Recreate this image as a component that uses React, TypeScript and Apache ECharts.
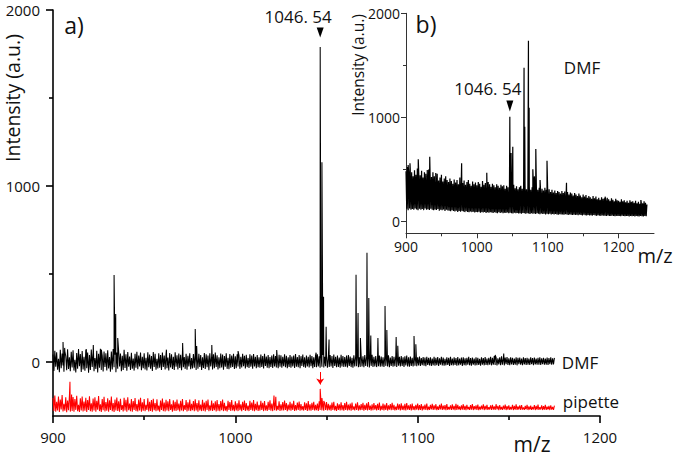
import React, { useEffect, useRef } from "react";
import * as echarts from "echarts";

// ---------- data ----------
const MZ_START = 900;      // first m/z of every sampled trace
const MAIN_STEP = 0.5;     // m/z step of the panel a) traces
const INSET_STEP = 1;      // m/z step of the panel b) trace

const xTicksMain = [900, 1000, 1100, 1200];
const xMinorMain = [950, 1050, 1150];
const yTicksMain = [0, 1000, 2000];
const yMinorMain = [500, 1500];
const xTicksInset = [900, 1000, 1100, 1200];
const xMinorInset = [950, 1050, 1150];
const yTicksInset = [0, 1000, 2000];
const yMinorInset = [500, 1500];

// DMF trace (panel a), baseline 900..1175 every 0.5 m/z
const dmfNoise = [
  42, -51, 63, -27, 55, -44, 18, -58, 70, -36, 48, -20, -55, 61, 33, -47, 72, -40, 26, -53,
  58, -31, 67, -49, 12, -60, 51, -38, 74, -24, 45, -57, 62, -42, 30, -50, 68, -35, 53, -61,
  39, -46, 71, -28, 57, -52, 22, -40, 64, -59, 47, -33, 75, -45, 36, -54, 60, -29, 50, -48,
  66, -37, 28, -56, 59, -43, 73, -30, 41, -58, 54, -39, 63, -25, 48, -52, 35, -46, 69, -34,
  44, -50, 56, -27, 31, -45, 52, -38, 20, -49, 47, -32, 58, -41, 37, -26, 53, -47, 29, -36,
  50, -43, 24, -48, 55, -30, 42, -39, 34, -51, 57, -28, 46, -44, 18, -37, 49, -33, 40, -46,
  53, -29, 36, -42, 47, -35, 25, -48, 51, -31, 44, -40, 30, -45, 55, -27, 38, -43, 48, -34,
  41, -47, 52, -30, 28, -39, 46, -44, 35, -26, 50, -41, 22, -37, 45, -32, 54, -46, 33, -38,
  47, -28, 39, -45, 26, -34, 51, -40, 43, -30, 36, -47, 49, -25, 31, -42, 44, -35, 53, -29,
  38, -43, 27, -36, 48, -31, 42, -44, 34, -27, 50, -39, 24, -41, 45, -33, 37, -28, 46, -40,
  32, -35, 44, -26, 38, -39, 29, -31, 47, -24, 35, -37, 41, -29, 23, -34, 43, -27, 36, -38,
  45, -25, 30, -36, 39, -30, 26, -33, 42, -28, 34, -37, 46, -23, 31, -32, 40, -35, 28, -29,
  37, -34, 43, -26, 33, -31, 24, -36, 41, -27, 38, -33, 29, -24, 44, -30, 35, -35, 27, -28,
  40, -32, 31, -25, 36, -34, 45, -27, 28, -30, 39, -36, 33, -22, 42, -29, 26, -33, 37, -26,
  30, -31, 41, -24, 34, -35, 27, -28, 38, -30, 43, -25, 32, -33, 36, -27, 40, -31, 29, -24,
  35, -32, 26, -29, 39, -26, 33, -34, 42, -23, 30, -30, 37, -28, 25, -32, 41, -25, 34, -29,
  28, -27, 36, -31, 40, -22, 31, -29, 24, -33, 38, -26, 33, -24, 42, -30, 27, -28, 35, -25,
  32, -30, 39, -23, 29, -27, 36, -31, 26, -22, 41, -28, 30, -26, 34, -29, 23, -24, 37, -27,
  31, -25, 27, -29, 35, -22, 28, -26, 38, -30, 25, -23, 33, -27, 29, -24, 36, -28, 24, -21,
  30, -26, 34, -23, 26, -28, 32, -20, 37, -25, 27, -27, 31, -22, 24, -26, 35, -21, 29, -24,
  26, -20, 31, -23, 22, -18, 28, -21, 25, -24, 30, -17, 23, -20, 27, -22, 19, -19, 29, -21,
  24, -18, 28, -22, 21, -16, 30, -20, 25, -21, 18, -19, 27, -17, 23, -22, 29, -18, 20, -20,
  26, -17, 22, -21, 28, -19, 19, -16, 25, -22, 27, -18, 21, -20, 24, -15, 30, -19, 22, -21,
  25, -16, 20, -20, 27, -18, 23, -17, 18, -21, 26, -15, 22, -19, 28, -17, 20, -18, 24, -16,
  29, -19, 23, -15, 34, -17, 26, -20, 21, -14, 27, -18, 32, -16, 22, -19, 25, -13, 28, -17,
  21, -18, 26, -14, 24, -17, 19, -15, 27, -19, 23, -13, 25, -16, 20, -18, 26, -14, 22, -17,
  24, -15, 20, -17, 27, -13, 22, -18, 25, -14, 19, -16, 23, -15, 26, -17, 21, -13, 24, -16,
  20, -15, 25, -17, 22, -13, 26, -16, 21, -14, 23,
];

// pipette trace (panel a, offset below), 900..1175 every 0.5 m/z
const pipetteNoise = [
  -204, -279, -190, -283, -226, -276, -197, -284, -213, -270, -188, -281, -238, -277, -201, -285, -219, -274, -194, -282,
  -231, -278, -199, -283, -210, -272, -192, -280, -244, -284, -207, -275, -196, -281, -225, -277, -203, -284, -216, -273,
  -195, -280, -235, -283, -208, -276, -200, -282, -221, -271, -193, -279, -241, -284, -211, -274, -198, -281, -228, -277,
  -206, -283, -218, -272, -197, -280, -233, -284, -213, -275, -202, -279, -224, -282, -209, -273, -245, -281, -204, -276,
  -215, -282, -200, -274, -236, -280, -211, -283, -222, -272, -205, -279, -239, -281, -214, -275, -203, -282, -229, -277,
  -210, -280, -243, -273, -207, -281, -226, -278, -217, -283, -209, -274, -234, -280, -212, -276, -248, -282, -219, -273,
  -208, -279, -231, -281, -215, -275, -223, -280, -211, -272, -240, -282, -218, -277, -227, -279, -213, -274, -236, -281,
  -220, -276, -210, -280, -245, -273, -216, -281, -229, -277, -214, -279, -238, -274, -222, -280, -212, -276, -233, -282,
  -218, -275, -242, -279, -215, -277, -230, -281, -221, -273, -213, -280, -247, -276, -219, -278, -235, -274, -224, -281,
  -216, -277, -239, -280, -222, -274, -214, -279, -232, -276, -250, -281, -220, -273, -228, -278, -217, -275, -244, -280,
  -223, -276, -235, -279, -218, -274, -241, -280, -226, -272, -219, -278, -233, -275, -248, -279, -221, -273, -230, -277,
  -216, -280, -238, -274, -225, -278, -243, -276, -220, -273, -232, -279, -222, -275, -246, -278, -227, -272, -218, -277,
  -236, -279, -224, -274, -231, -277, -249, -273, -223, -278, -240, -275, -228, -276, -219, -272, -234, -279, -242, -274,
  -226, -277, -237, -273, -221, -278, -245, -275, -230, -272, -225, -277, -239, -274, -251, -276, -229, -273, -235, -278,
  -222, -275, -241, -277, -232, -272, -227, -276, -244, -274, -236, -278, -224, -273, -230, -275, -247, -277, -233, -272,
  -228, -276, -238, -274, -243, -277, -231, -273, -226, -275, -249, -278, -235, -272, -240, -276, -229, -274, -245, -277,
  -234, -273, -227, -276, -242, -274, -237, -277, -231, -272, -252, -275, -236, -273, -229, -276, -246, -274, -239, -272,
  -232, -277, -244, -273, -235, -275, -228, -272, -248, -276, -240, -274, -233, -271, -245, -275, -238, -273, -230, -276,
  -250, -272, -236, -275, -242, -273, -234, -276, -247, -271, -239, -274, -232, -272, -244, -275, -253, -273, -237, -271,
  -241, -275, -235, -272, -248, -274, -238, -276, -233, -271, -246, -273, -240, -275, -236, -272, -251, -274, -243, -271,
  -237, -274, -245, -272, -239, -275, -249, -271, -242, -273, -236, -274, -254, -272, -244, -270, -238, -273, -247, -271,
  -240, -274, -252, -272, -243, -270, -237, -273, -248, -271, -245, -274, -239, -272, -255, -270, -246, -273, -241, -271,
  -250, -274, -238, -272, -244, -270, -253, -273, -247, -271, -240, -272, -249, -274, -243, -270, -256, -272, -245, -271,
  -239, -273, -251, -270, -246, -272, -242, -274, -254, -271, -248, -270, -241, -273, -250, -271, -244, -272, -257, -270,
  -247, -273, -243, -271, -252, -272, -240, -270, -249, -274, -245, -271, -255, -272, -248, -270, -242, -273, -251, -271,
  -246, -272, -256, -270, -244, -273, -250, -271, -241, -272, -253, -270, -247, -273, -245, -271, -258, -272, -249, -270,
  -243, -273, -252, -271, -248, -272, -255, -270, -245, -273, -250, -271, -242, -272, -257, -270, -247, -273, -251, -271,
  -244, -272, -254, -270, -249, -273, -246, -271, -256, -272, -248,
];

// DMF trace in inset b), 900..1240 every 1 m/z
const insetNoise = [
  480, 118, 520, 105, 455, 122, 500, 110, 470, 115, 430, 108, 490, 120, 445, 112, 505, 104, 460, 118,
  440, 110, 485, 116, 420, 105, 470, 120, 455, 108, 430, 114, 495, 106, 450, 118, 425, 110, 470, 104,
  430, 112, 400, 106, 455, 115, 390, 100, 420, 110, 445, 104, 380, 112, 410, 98, 430, 108, 395, 102,
  375, 100, 410, 94, 385, 104, 360, 96, 400, 92, 370, 100, 395, 88, 355, 96, 420, 90, 380, 98,
  365, 92, 390, 86, 350, 95, 375, 88, 395, 84, 360, 92, 340, 86, 380, 90, 355, 82, 370, 88,
  345, 84, 375, 90, 360, 80, 330, 86, 385, 82, 350, 88, 365, 78, 340, 84, 375, 80, 355, 86,
  330, 82, 360, 78, 345, 86, 325, 80, 355, 76, 340, 84, 320, 78, 350, 82, 335, 76, 345, 80,
  310, 78, 340, 82, 325, 74, 300, 80, 345, 76, 330, 72, 350, 80, 315, 74, 335, 78, 305, 72,
  325, 76, 340, 70, 310, 78, 330, 74, 345, 70, 305, 76, 320, 72, 335, 68, 300, 74, 325, 70,
  315, 72, 290, 68, 330, 74, 300, 70, 320, 66, 285, 72, 310, 68, 295, 70, 320, 64, 300, 70,
  285, 66, 305, 70, 280, 64, 300, 68, 275, 62, 295, 68, 270, 64, 290, 60, 280, 66, 265, 62,
  290, 64, 270, 60, 285, 66, 260, 62, 280, 58, 255, 64, 275, 60, 265, 58, 245, 62, 270, 58,
  255, 60, 240, 56, 265, 62, 245, 58, 230, 54, 255, 60, 235, 56, 250, 54, 225, 58, 240, 54,
  230, 56, 215, 52, 240, 58, 220, 54, 235, 50, 210, 56, 225, 52, 205, 50, 230, 54, 215, 50,
  220, 52, 200, 48, 225, 54, 210, 50, 195, 48, 220, 52, 205, 50, 190, 46, 215, 50, 200, 48,
  195, 50, 185, 46, 210, 52, 190, 48, 200, 46, 180, 50, 195, 48, 175, 44, 200, 50, 185, 46,
  190, 48, 175, 44, 195, 50, 170, 46, 185, 44, 165, 48, 180, 46, 170, 44, 190, 48, 175, 46,
  160,
];

// peaks: [m/z, intensity]
const dmfPeaks = [
  [905.5, 114], [906.4, 80], [918.3, 72], [922.1, 97], [926.5, 70],
  [933.5, 494], [934.4, 273], [935.5, 136], [962.2, 70], [971.1, 108],
  [978.0, 187], [978.8, 91], [987.1, 97], [1001.5, 62], [1022.7, 68],
  [1044.3, 53], [1046.54, 1790], [1047.5, 1135], [1048.4, 370], [1049.8, 200],
  [1051.4, 128], [1066.2, 495], [1067.3, 278], [1068.6, 136], [1072.2, 620],
  [1073.2, 364], [1074.3, 150], [1078.2, 136], [1082.1, 318], [1083.1, 182],
  [1088.2, 142], [1089.1, 92], [1098.0, 148], [1099.0, 100], [1142.5, 40], [1147.2, 48],
];
const pipettePeaks = [
  [909.3, -112], [910.2, -185], [1021.2, -190], [1022.2, -198],
  [1046.54, -153], [1047.5, -205], [1048.5, -222],
];
const insetPeaks = [
  [903.0, 540], [905.6, 556], [917.3, 594], [930.0, 491], [933.5, 620],
  [942.0, 462], [978.5, 556], [1014.0, 465], [1046.54, 1004], [1048.3, 654],
  [1050.7, 715], [1061.0, 300], [1066.6, 1476], [1067.6, 908], [1072.8, 1736],
  [1073.8, 1090], [1079.0, 498], [1081.2, 430], [1083.2, 693], [1089.2, 395],
  [1099.0, 580], [1126.5, 369], [1181.0, 234], [1231.5, 202],
];

const peakLabel = "1046. 54";
const mainMarker = [1046.54, 1872];
const insetMarker = [1046.54, 1107];
const arrowFrom = [1046.54, -57];
const arrowTo = [1046.54, -128];

// ---------- helpers ----------
function buildTrace(noise: number[], step: number, peaks: number[][]) {
  const pts: number[][] = noise.map((v, i) => [MZ_START + i * step, v]);
  peaks.forEach((p) => pts.push([p[0], p[1]]));
  pts.sort((a, b) => a[0] - b[0]);
  return pts;
}

const FONT = "Open Sans";
const plain = (v: number) => String(v);

function xAxisPair(grid: number, min: number, max: number, major: number[], minor: number[], opt: any) {
  return [
    {
      type: "value", gridIndex: grid, min, max, position: "bottom",
      axisLine: { show: true, onZero: false, lineStyle: { color: opt.color, width: opt.lw } },
      axisTick: { show: true, customValues: major, length: opt.tick, lineStyle: { color: opt.color, width: opt.lw } },
      axisLabel: { show: true, customValues: major, formatter: plain, fontSize: opt.fs, color: "#111", fontFamily: FONT, margin: opt.margin },
      splitLine: { show: false },
    },
    {
      type: "value", gridIndex: grid, min, max, position: "bottom",
      axisLine: { show: false, onZero: false },
      axisTick: { show: true, customValues: minor, length: opt.minorTick, lineStyle: { color: opt.color, width: opt.lw } },
      axisLabel: { show: false },
      splitLine: { show: false },
    },
  ];
}

function yAxisPair(grid: number, min: number, max: number, major: number[], minor: number[], opt: any) {
  return [
    {
      type: "value", gridIndex: grid, min, max, position: "left",
      axisLine: { show: true, onZero: false, lineStyle: { color: opt.color, width: opt.lw } },
      axisTick: { show: true, customValues: major, length: opt.tick, lineStyle: { color: opt.color, width: opt.lw } },
      axisLabel: { show: true, customValues: major, formatter: plain, fontSize: opt.fs, color: "#111", fontFamily: FONT, margin: opt.margin },
      splitLine: { show: false },
    },
    {
      type: "value", gridIndex: grid, min, max, position: "left",
      axisLine: { show: false, onZero: false },
      axisTick: { show: true, customValues: minor, length: opt.minorTick, lineStyle: { color: opt.color, width: opt.lw } },
      axisLabel: { show: false },
      splitLine: { show: false },
    },
  ];
}

function txt(text: string, x: number, y: number, fontSize: number, rotation = 0) {
  return {
    type: "text", x, y, rotation, silent: true,
    style: { text, fontSize, fontFamily: FONT, fill: "#111", align: "center", verticalAlign: "middle" },
  };
}

export default function App() {
  const ref = useRef<HTMLDivElement>(null);

  useEffect(() => {
    if (!ref.current) return;
    const chart = echarts.init(ref.current, undefined, { renderer: "svg" });

    const mainOpt = { color: "#000", lw: 1.6, tick: 7, minorTick: 4, fs: 15, margin: 13 };
    const insetOpt = { color: "#333", lw: 1, tick: 5, minorTick: 3, fs: 14, margin: 6 };

    const option: any = {
      animation: false,
      textStyle: { fontFamily: FONT },
      grid: [
        { left: 53, right: 75, top: 10, bottom: 42 },
        { left: 406, right: 21, top: 13.3, bottom: 224.7 },
      ],
      xAxis: [
        ...xAxisPair(0, 900, 1200, xTicksMain, xMinorMain, mainOpt),
        ...xAxisPair(1, 900, 1250, xTicksInset, xMinorInset, insetOpt),
      ],
      yAxis: [
        ...yAxisPair(0, -307, 2000, yTicksMain, yMinorMain, mainOpt),
        ...yAxisPair(1, -118, 2000, yTicksInset, yMinorInset, insetOpt),
      ],
      series: [
        {
          name: "DMF", type: "line", xAxisIndex: 0, yAxisIndex: 0, silent: true,
          showSymbol: false, symbol: "none",
          lineStyle: { color: "#000", width: 1.05 },
          data: buildTrace(dmfNoise, MAIN_STEP, dmfPeaks),
          markPoint: {
            silent: true,
            symbol: "path://M0,0L10,0L5,10Z",
            symbolSize: [7, 10],
            itemStyle: { color: "#000" },
            label: {
              show: true, position: "top", distance: 3, offset: [-22, 0],
              formatter: peakLabel, fontSize: 17, color: "#111", fontFamily: FONT,
            },
            data: [{ coord: mainMarker }],
          },
        },
        {
          name: "pipette", type: "line", xAxisIndex: 0, yAxisIndex: 0, silent: true,
          showSymbol: false, symbol: "none",
          lineStyle: { color: "#ff0000", width: 1.05 },
          data: buildTrace(pipetteNoise, MAIN_STEP, pipettePeaks),
          markLine: {
            silent: true,
            symbol: ["none", "arrow"],
            symbolSize: 6,
            lineStyle: { color: "#ff0000", width: 1, type: "solid" },
            label: { show: false },
            data: [[{ coord: arrowFrom }, { coord: arrowTo }]],
          },
        },
        {
          name: "DMF inset", type: "line", xAxisIndex: 2, yAxisIndex: 2, silent: true,
          showSymbol: false, symbol: "none",
          lineStyle: { color: "#000", width: 1.2 },
          data: buildTrace(insetNoise, INSET_STEP, insetPeaks),
          markPoint: {
            silent: true,
            symbol: "path://M0,0L10,0L5,10Z",
            symbolSize: [7, 11],
            itemStyle: { color: "#000" },
            label: {
              show: true, position: "top", distance: 4, offset: [-22, 0],
              formatter: peakLabel, fontSize: 17, color: "#111", fontFamily: FONT,
            },
            data: [{ coord: insetMarker }],
          },
        },
      ],
      graphic: [
        txt("a)", 74, 25, 23),
        txt("b)", 426, 24, 23),
        txt("DMF", 582, 67.5, 17),
        txt("DMF", 580, 362.5, 17),
        txt("pipette", 591, 401.7, 17),
        txt("m/z", 532, 443.5, 21),
        txt("m/z", 655, 255, 20),
        txt("Intensity (a.u.)", 12, 98, 19.5, Math.PI / 2),
        txt("Intensity (a.u.)", 358, 65, 15.5, Math.PI / 2),
      ],
    };

    chart.setOption(option);
    return () => chart.dispose();
  }, []);

  return (
    <div
      ref={ref}
      style={{ position: "fixed", left: 0, top: 0, width: 675, height: 458, background: "#fff" }}
    />
  );
}
